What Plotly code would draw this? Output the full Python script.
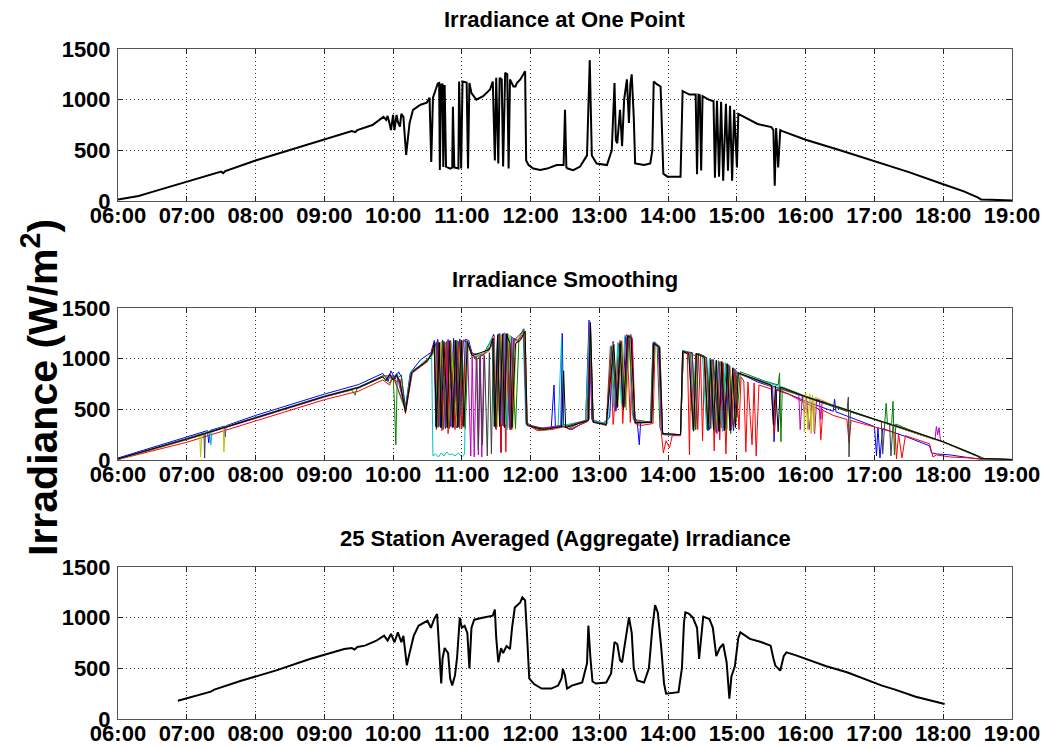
import plotly.graph_objects as go

# ---------------- data (hours of day, W/m^2) ----------------
hour_ticks = [6, 7, 8, 9, 10, 11, 12, 13, 14, 15, 16, 17, 18, 19]
tick_labels = ["06:00", "07:00", "08:00", "09:00", "10:00", "11:00", "12:00",
               "13:00", "14:00", "15:00", "16:00", "17:00", "18:00", "19:00"]
y_ticks = [0, 500, 1000, 1500]

titles = ["Irradiance at One Point", "Irradiance Smoothing",
          "25 Station Averaged (Aggregate) Irradiance"]

one_point = [
    (6.00, 15), (6.15, 30), (6.30, 50), (6.50, 90), (7.00, 190), (7.50, 290), (7.53, 275), (7.56, 295),
    (8.00, 400), (8.50, 505), (9.00, 610), (9.40, 690), (9.45, 680), (9.48, 700), (9.70, 750), (9.81, 800),
    (9.86, 830), (9.90, 800), (9.92, 840), (9.95, 760), (9.97, 700), (10.00, 850), (10.02, 700), (10.05, 850),
    (10.07, 780), (10.10, 735), (10.12, 860), (10.15, 830), (10.19, 455), (10.24, 770), (10.29, 900),
    (10.40, 950), (10.49, 970), (10.53, 1020), (10.555, 385), (10.58, 1020), (10.65, 1160), (10.67, 1165),
    (10.68, 305), (10.70, 1150), (10.72, 1150), (10.73, 335), (10.75, 1145), (10.77, 340), (10.83, 320),
    (10.86, 330), (10.87, 930), (10.89, 330), (10.95, 320), (10.96, 1180), (10.99, 320), (11.01, 1180),
    (11.07, 1170), (11.09, 320), (11.11, 1165), (11.14, 1065), (11.21, 1000), (11.31, 1035), (11.41, 1100),
    (11.45, 1180), (11.48, 400), (11.50, 1215), (11.53, 370), (11.55, 1215), (11.58, 1200), (11.60, 340),
    (11.63, 1265), (11.66, 1250), (11.68, 320), (11.70, 1200), (11.75, 1130), (11.78, 1130), (11.80, 1165),
    (11.85, 1200), (11.92, 1280), (11.935, 400), (11.97, 355), (12.04, 320), (12.14, 305), (12.24, 320),
    (12.38, 355), (12.48, 355), (12.50, 900), (12.52, 330), (12.54, 320), (12.62, 305), (12.72, 340),
    (12.82, 450), (12.86, 1390), (12.89, 450), (12.96, 370), (13.11, 355), (13.18, 500), (13.22, 1165),
    (13.24, 600), (13.26, 570), (13.30, 900), (13.33, 540), (13.36, 1000), (13.40, 1200), (13.43, 770),
    (13.45, 1150), (13.47, 1250), (13.50, 830), (13.52, 370), (13.65, 355), (13.74, 370), (13.77, 500),
    (13.79, 1180), (13.84, 1150), (13.89, 1130), (13.93, 270), (13.99, 240), (14.18, 240), (14.21, 1085),
    (14.31, 1050), (14.40, 1050), (14.42, 265), (14.44, 1050), (14.46, 1045), (14.48, 300), (14.50, 1035),
    (14.59, 1000), (14.66, 985), (14.68, 230), (14.71, 990), (14.74, 240), (14.77, 980), (14.80, 200),
    (14.84, 960), (14.87, 300), (14.90, 940), (14.93, 200), (14.96, 900), (15.00, 330), (15.02, 860),
    (15.10, 830), (15.30, 760), (15.50, 730), (15.53, 700), (15.55, 150), (15.57, 720), (15.60, 330),
    (15.63, 700), (15.66, 690), (15.70, 680), (16.00, 605), (16.50, 500), (17.00, 395), (17.50, 285),
    (18.00, 165), (18.30, 95), (18.50, 35), (18.55, 15), (18.70, 12), (19.00, 5),
]

st_blue = [
    (6.00, 20), (7.00, 230), (7.30, 290), (7.32, 170), (7.34, 292), (7.55, 335), (7.56, 230), (7.57, 338),
    (8.00, 440), (9.00, 650), (9.50, 745), (9.85, 855), (9.93, 780), (9.97, 880), (10.03, 800), (10.08, 870),
    (10.12, 820), (10.18, 520), (10.25, 860), (10.40, 990), (10.55, 1060), (10.60, 1180), (10.62, 330),
    (10.65, 1190), (10.69, 320), (10.72, 1185), (10.76, 310), (10.80, 1190), (10.84, 330), (10.88, 1200),
    (10.92, 320), (10.97, 1195), (11.01, 340), (11.05, 1190), (11.10, 1180), (11.15, 1050), (11.30, 1040),
    (11.42, 1120), (11.46, 1240), (11.49, 310), (11.53, 1245), (11.57, 80), (11.60, 1250), (11.64, 330),
    (11.67, 1240), (11.71, 300), (11.75, 1200), (11.82, 1180), (11.90, 1295), (11.94, 380), (12.00, 330),
    (12.15, 300), (12.30, 320), (12.34, 740), (12.36, 330), (12.44, 340), (12.46, 1250), (12.48, 330),
    (12.60, 300), (12.80, 380), (12.85, 1380), (12.89, 400), (13.05, 360), (13.15, 420), (13.20, 1170),
    (13.24, 480), (13.30, 1100), (13.34, 520), (13.38, 1220), (13.44, 1230), (13.48, 450), (13.55, 380),
    (13.58, 150), (13.60, 370), (13.75, 380), (13.78, 1160), (13.86, 1120), (13.92, 260), (14.00, 250),
    (14.18, 250), (14.22, 1070), (14.35, 1060), (14.40, 310), (14.44, 1050), (14.55, 1010), (14.60, 300),
    (14.64, 990), (14.70, 270), (14.76, 970), (14.82, 300), (14.88, 940), (14.95, 290), (15.02, 860),
    (15.30, 770), (15.52, 720), (15.54, 180), (15.58, 700), (16.00, 580), (16.40, 480), (16.42, 600),
    (16.44, 475), (17.00, 330), (17.03, 40), (17.05, 320), (17.08, 20), (17.12, 310), (17.50, 220),
    (17.80, 140), (17.83, 70), (17.90, 60), (18.10, 50), (18.40, 20), (18.55, 10), (19.00, 3),
]

st_green = [
    (6.00, 5), (7.00, 200), (8.00, 415), (9.00, 625), (9.40, 690), (9.45, 640), (9.47, 700), (9.85, 820),
    (9.95, 760), (10.00, 830), (10.02, 560), (10.04, 150), (10.06, 800), (10.12, 840), (10.18, 480),
    (10.26, 850), (10.45, 970), (10.58, 1040), (10.62, 1150), (10.64, 320), (10.68, 1160), (10.73, 300),
    (10.78, 1170), (10.82, 310), (10.90, 1180), (10.95, 330), (11.00, 1175), (11.05, 310), (11.09, 1160),
    (11.15, 1020), (11.30, 1030), (11.44, 1200), (11.47, 330), (11.52, 1230), (11.56, 330), (11.62, 1255),
    (11.66, 350), (11.72, 1220), (11.78, 310), (11.83, 1190), (11.91, 1285), (11.94, 360), (12.10, 300),
    (12.40, 330), (12.50, 350), (12.55, 310), (12.82, 400), (12.86, 1360), (12.90, 390), (13.10, 350),
    (13.18, 1100), (13.22, 500), (13.28, 1150), (13.36, 560), (13.41, 1210), (13.46, 1240), (13.52, 360),
    (13.74, 370), (13.78, 1150), (13.84, 1130), (13.88, 320), (13.92, 250), (14.18, 250), (14.21, 1080),
    (14.30, 1060), (14.36, 300), (14.40, 1050), (14.52, 1030), (14.57, 350), (14.62, 990), (14.68, 280),
    (14.73, 980), (14.78, 320), (14.85, 950), (14.91, 260), (14.97, 900), (15.00, 420), (15.05, 870),
    (15.40, 780), (15.60, 740), (15.62, 860), (15.64, 180), (15.66, 720), (16.00, 630), (16.50, 520),
    (17.00, 410), (17.15, 370), (17.17, 560), (17.19, 350), (17.25, 360), (17.27, 580), (17.29, 50),
    (17.31, 355), (17.50, 300), (18.00, 180), (18.30, 100), (18.52, 40), (18.60, 15), (19.00, 5),
]

st_red = [
    (6.00, 5), (7.00, 175), (8.00, 385), (9.00, 595), (9.50, 680), (9.85, 790), (9.95, 740), (10.00, 820),
    (10.05, 770), (10.10, 800), (10.18, 460), (10.28, 860), (10.50, 970), (10.60, 1140), (10.63, 300),
    (10.67, 1150), (10.71, 290), (10.77, 1160), (10.80, 260), (10.85, 1150), (10.90, 300), (10.95, 1170),
    (11.00, 310), (11.06, 1160), (11.12, 1100), (11.20, 990), (11.40, 1080), (11.45, 1220), (11.50, 300),
    (11.54, 1230), (11.57, 70), (11.60, 1240), (11.64, 80), (11.67, 1230), (11.72, 300), (11.76, 1180),
    (11.86, 1200), (11.92, 1270), (11.95, 350), (12.10, 290), (12.30, 300), (12.50, 330), (12.56, 300),
    (12.83, 380), (12.86, 1340), (12.90, 380), (13.10, 340), (13.16, 1120), (13.20, 350), (13.30, 1180),
    (13.34, 360), (13.40, 1240), (13.45, 370), (13.48, 1200), (13.52, 360), (13.60, 340), (13.78, 360),
    (13.81, 1140), (13.87, 1100), (13.90, 280), (13.93, 70), (13.97, 190), (14.02, 120), (14.06, 240),
    (14.18, 240), (14.21, 1060), (14.28, 1050), (14.31, 50), (14.33, 1040), (14.40, 1030), (14.43, 300),
    (14.47, 1040), (14.50, 190), (14.53, 1020), (14.58, 320), (14.63, 980), (14.67, 90), (14.70, 950),
    (14.75, 200), (14.80, 960), (14.84, 60), (14.88, 930), (14.93, 350), (14.98, 880), (15.03, 300),
    (15.06, 820), (15.10, 780), (15.13, 80), (15.16, 770), (15.22, 150), (15.25, 760), (15.28, 40),
    (15.32, 740), (15.50, 700), (15.54, 260), (15.57, 690), (15.75, 650), (16.00, 560), (16.20, 500),
    (16.22, 200), (16.25, 490), (16.40, 440), (16.60, 400), (16.63, 170), (16.66, 390), (17.00, 330),
    (17.30, 270), (17.32, 10), (17.35, 260), (17.40, 20), (17.45, 240), (17.80, 160), (17.85, 30),
    (17.90, 50), (18.00, 40), (18.10, 30), (18.40, 20), (18.55, 8), (19.00, 2),
]

st_cyan = [
    (6.00, 10), (7.00, 210), (7.33, 285), (7.35, 150), (7.37, 290), (8.00, 420), (9.00, 630), (9.50, 720),
    (9.85, 830), (10.00, 800), (10.06, 860), (10.18, 500), (10.26, 870), (10.50, 990), (10.56, 1060),
    (10.58, 40), (10.62, 60), (10.66, 30), (10.70, 70), (10.74, 40), (10.78, 80), (10.82, 50), (10.86, 60),
    (10.90, 40), (10.95, 70), (11.00, 30), (11.04, 60), (11.06, 1170), (11.10, 1150), (11.15, 1010),
    (11.35, 1060), (11.44, 1210), (11.48, 380), (11.52, 1240), (11.58, 360), (11.62, 1250), (11.66, 300),
    (11.70, 1230), (11.80, 1160), (11.89, 1290), (11.93, 360), (12.10, 310), (12.40, 330), (12.45, 1200),
    (12.47, 340), (12.80, 390), (12.86, 1370), (12.91, 390), (13.12, 360), (13.17, 1130), (13.21, 520),
    (13.27, 1160), (13.32, 560), (13.37, 1230), (13.43, 1200), (13.49, 400), (13.55, 370), (13.75, 370),
    (13.80, 1170), (13.88, 1120), (13.91, 260), (14.18, 250), (14.22, 1080), (14.32, 1060), (14.37, 280),
    (14.41, 1050), (14.50, 1030), (14.56, 300), (14.60, 1000), (14.66, 300), (14.70, 980), (14.79, 280),
    (14.83, 960), (14.90, 330), (14.94, 910), (15.00, 860), (15.40, 770), (15.65, 720), (16.00, 620),
    (16.50, 510), (17.00, 400), (17.50, 290), (18.00, 175), (18.50, 35), (18.55, 12), (19.00, 4),
]

st_magenta = [
    (6.00, 8), (7.00, 205), (8.00, 410), (9.00, 620), (9.50, 715), (9.85, 825), (10.00, 810), (10.05, 850),
    (10.18, 490), (10.27, 860), (10.50, 980), (10.60, 1100), (10.64, 1170), (10.67, 330), (10.71, 1170),
    (10.76, 330), (10.81, 1180), (10.86, 320), (10.91, 1180), (10.96, 330), (11.02, 1185), (11.08, 1170),
    (11.13, 40), (11.15, 1030), (11.18, 30), (11.21, 1020), (11.24, 50), (11.27, 1030), (11.29, 30),
    (11.32, 1040), (11.43, 1120), (11.47, 1230), (11.51, 330), (11.55, 1250), (11.59, 340), (11.64, 1250),
    (11.69, 320), (11.73, 1210), (11.81, 1170), (11.90, 1280), (11.94, 350), (12.10, 310), (12.45, 340),
    (12.50, 320), (12.84, 390), (12.86, 1360), (12.90, 380), (13.10, 350), (13.19, 1140), (13.25, 500),
    (13.31, 1170), (13.38, 540), (13.42, 1230), (13.47, 1220), (13.51, 380), (13.75, 370), (13.79, 1150),
    (13.86, 1110), (13.90, 300), (13.94, 250), (14.18, 245), (14.22, 1070), (14.33, 1055), (14.38, 320),
    (14.42, 1050), (14.55, 1010), (14.61, 330), (14.65, 990), (14.71, 260), (14.75, 970), (14.81, 290),
    (14.87, 940), (14.92, 300), (14.96, 900), (15.03, 850), (15.50, 730), (15.70, 690), (15.90, 640),
    (15.92, 300), (15.95, 630), (15.98, 470), (16.01, 620), (16.05, 300), (16.10, 610), (16.13, 260),
    (16.16, 600), (16.20, 590), (16.22, 400), (16.24, 585), (16.50, 510), (17.00, 400), (17.50, 290),
    (17.88, 200), (17.90, 330), (17.92, 250), (17.94, 320), (17.96, 190), (18.00, 175), (18.50, 35),
    (18.55, 12), (19.00, 4),
]

st_yellow = [
    (6.00, 8), (7.00, 200), (7.19, 240), (7.20, 30), (7.22, 245), (7.53, 325), (7.54, 80), (7.56, 330),
    (8.00, 415), (9.00, 625), (9.50, 715), (9.85, 825), (10.00, 820), (10.18, 480), (10.27, 860),
    (10.50, 980), (10.58, 1050), (10.62, 1160), (10.66, 320), (10.70, 1165), (10.79, 320), (10.84, 1180),
    (10.93, 330), (10.98, 1180), (11.03, 320), (11.07, 1170), (11.15, 1020), (11.40, 1080), (11.46, 1220),
    (11.52, 340), (11.57, 1240), (11.63, 350), (11.68, 1240), (11.74, 300), (11.79, 1170), (11.91, 1280),
    (11.95, 350), (12.20, 300), (12.50, 330), (12.85, 400), (12.87, 1350), (12.91, 380), (13.10, 350),
    (13.20, 1150), (13.27, 520), (13.33, 1180), (13.39, 500), (13.44, 1230), (13.50, 420), (13.55, 370),
    (13.76, 370), (13.80, 1160), (13.88, 1110), (13.92, 260), (14.18, 250), (14.22, 1070), (14.34, 1050),
    (14.39, 300), (14.43, 1050), (14.54, 1010), (14.59, 320), (14.63, 990), (14.72, 300), (14.77, 970),
    (14.86, 310), (14.90, 930), (14.98, 360), (15.02, 860), (15.50, 730), (15.80, 660), (15.97, 640),
    (15.98, 280), (16.00, 660), (16.03, 300), (16.06, 650), (16.08, 260), (16.10, 640), (16.12, 280),
    (16.14, 620), (16.50, 510), (17.00, 400), (17.50, 290), (18.00, 175), (18.50, 35), (18.55, 12),
    (19.00, 4),
]

st_gray = [
    (6.00, 10), (7.00, 210), (7.25, 265), (7.26, 20), (7.27, 267), (8.00, 420), (9.00, 630), (9.50, 720),
    (9.85, 830), (10.00, 830), (10.18, 500), (10.27, 870), (10.50, 985), (10.57, 1050), (10.63, 1160),
    (10.66, 330), (10.72, 1170), (10.77, 320), (10.83, 1180), (10.88, 330), (10.93, 1180), (10.97, 310),
    (11.02, 1180), (11.08, 1160), (11.14, 1040), (11.22, 1000), (11.24, 100), (11.26, 1010), (11.30, 150),
    (11.33, 1030), (11.37, 40), (11.40, 1060), (11.43, 60), (11.46, 1200), (11.50, 330), (11.55, 1240),
    (11.61, 330), (11.66, 1250), (11.70, 300), (11.76, 1180), (11.90, 1280), (11.94, 350), (12.20, 310),
    (12.50, 330), (12.85, 400), (12.87, 1360), (12.91, 380), (13.10, 350), (13.18, 1120), (13.26, 520),
    (13.32, 1170), (13.37, 520), (13.43, 1230), (13.50, 400), (13.76, 370), (13.80, 1160), (13.88, 1110),
    (13.92, 260), (14.18, 250), (14.22, 1075), (14.35, 1050), (14.40, 300), (14.44, 1050), (14.56, 1010),
    (14.62, 310), (14.66, 990), (14.73, 290), (14.78, 970), (14.84, 300), (14.89, 930), (14.95, 310),
    (15.00, 860), (15.50, 735), (16.00, 620), (16.60, 480), (16.62, 620), (16.63, 30), (16.65, 475),
    (17.00, 405), (17.10, 380), (17.12, 60), (17.15, 375), (17.22, 360), (17.24, 40), (17.27, 350),
    (17.50, 295), (18.00, 180), (18.50, 38), (18.55, 14), (19.00, 5),
]

st_black = [
    (6.00, 12), (7.00, 205), (8.00, 415), (9.00, 625), (9.50, 715), (9.85, 820), (9.90, 780), (9.95, 850),
    (10.00, 790), (10.05, 840), (10.10, 770), (10.18, 470), (10.27, 860), (10.50, 980), (10.56, 1040),
    (10.60, 1150), (10.63, 320), (10.67, 1160), (10.70, 320), (10.74, 1170), (10.79, 320), (10.82, 1170),
    (10.87, 320), (10.91, 1180), (10.94, 320), (10.99, 1180), (11.03, 330), (11.08, 1170), (11.15, 1030),
    (11.40, 1090), (11.45, 1200), (11.48, 330), (11.52, 1230), (11.55, 330), (11.59, 1240), (11.62, 320),
    (11.65, 1240), (11.70, 1150), (11.73, 320), (11.78, 1150), (11.85, 1180), (11.92, 1270), (11.95, 340),
    (12.20, 300), (12.45, 330), (12.48, 880), (12.51, 320), (12.84, 390), (12.87, 1350), (12.91, 370),
    (13.10, 350), (13.21, 1140), (13.26, 520), (13.30, 1150), (13.35, 500), (13.41, 1220), (13.46, 1210),
    (13.52, 370), (13.76, 370), (13.79, 1150), (13.87, 1120), (13.92, 260), (14.18, 250), (14.21, 1070),
    (14.30, 1050), (14.37, 290), (14.41, 1050), (14.53, 1010), (14.58, 290), (14.62, 990), (14.66, 300),
    (14.70, 985), (14.74, 280), (14.78, 970), (14.82, 290), (14.86, 950), (14.90, 290), (14.94, 910),
    (14.98, 320), (15.02, 860), (15.50, 740), (15.53, 350), (15.56, 730), (15.60, 280), (15.63, 720),
    (16.00, 625), (16.50, 515), (17.00, 405), (17.50, 295), (18.00, 180), (18.50, 40), (18.55, 15),
    (19.00, 5),
]

aggregate = [
    (6.87, 180), (7.05, 215), (7.28, 262), (7.35, 270), (7.40, 290), (7.79, 378), (8.29, 477), (8.79, 592),
    (9.29, 691), (9.40, 700), (9.44, 685), (9.48, 710), (9.59, 724), (9.75, 770), (9.87, 822), (9.92, 773),
    (9.97, 839), (10.02, 757), (10.07, 855), (10.12, 757), (10.15, 820), (10.17, 700), (10.20, 530),
    (10.24, 650), (10.30, 820), (10.37, 920), (10.50, 970), (10.55, 900), (10.60, 990), (10.64, 1036),
    (10.67, 700), (10.70, 350), (10.72, 600), (10.75, 700), (10.80, 650), (10.83, 400), (10.86, 330),
    (10.90, 430), (10.93, 600), (10.97, 1000), (11.00, 900), (11.04, 920), (11.08, 850), (11.11, 500),
    (11.14, 900), (11.18, 980), (11.30, 1000), (11.45, 1020), (11.48, 1080), (11.50, 800), (11.53, 560),
    (11.57, 700), (11.60, 650), (11.65, 720), (11.70, 690), (11.73, 900), (11.77, 1100), (11.85, 1150),
    (11.88, 1200), (11.92, 1170), (11.95, 800), (11.98, 400), (12.05, 345), (12.16, 300), (12.30, 300),
    (12.40, 330), (12.45, 400), (12.47, 494), (12.50, 430), (12.53, 300), (12.60, 330), (12.75, 360),
    (12.82, 550), (12.84, 921), (12.87, 600), (12.90, 370), (12.95, 350), (13.10, 360), (13.17, 450),
    (13.22, 760), (13.26, 740), (13.30, 580), (13.33, 560), (13.38, 800), (13.43, 1003), (13.47, 850),
    (13.50, 500), (13.55, 380), (13.65, 360), (13.72, 500), (13.77, 900), (13.81, 1125), (13.85, 1050),
    (13.90, 700), (13.94, 350), (13.97, 250), (14.15, 265), (14.20, 500), (14.23, 950), (14.25, 1053),
    (14.30, 1040), (14.36, 1000), (14.42, 900), (14.45, 592), (14.48, 800), (14.51, 1010), (14.60, 987),
    (14.65, 900), (14.70, 620), (14.75, 700), (14.80, 740), (14.85, 560), (14.89, 200), (14.92, 420),
    (14.97, 520), (15.02, 800), (15.05, 855), (15.19, 790), (15.35, 760), (15.49, 724), (15.53, 600),
    (15.56, 526), (15.60, 500), (15.63, 477), (15.68, 620), (15.72, 658), (15.85, 630), (16.00, 592),
    (16.30, 520), (16.60, 461), (17.11, 329), (17.30, 290), (17.60, 220), (18.02, 148),
]

station_sets = [st_blue, st_green, st_red, st_cyan, st_magenta, st_yellow, st_gray, st_black]
station_colors = ["#0000ff", "#008000", "#ff0000", "#00bfbf", "#bf00bf", "#bfbf00", "#404040", "#000000"]

# ---------------- figure ----------------
fig = go.Figure()


def xy(pairs):
    return [p[0] for p in pairs], [p[1] for p in pairs]


x, y = xy(one_point)
fig.add_trace(go.Scatter(x=x, y=y, mode="lines", line=dict(color="black", width=2),
                         xaxis="x", yaxis="y", showlegend=False))
for pairs, col in zip(station_sets, station_colors):
    x, y = xy(pairs)
    fig.add_trace(go.Scatter(x=x, y=y, mode="lines", line=dict(color=col, width=1),
                             xaxis="x2", yaxis="y2", showlegend=False))
x, y = xy(aggregate)
fig.add_trace(go.Scatter(x=x, y=y, mode="lines", line=dict(color="black", width=2),
                         xaxis="x3", yaxis="y3", showlegend=False))

W, H = 1044, 748
x_dom = [118 / W, 1012 / W]
plots_px = [(49, 201), (308, 460), (567, 719)]

FONT = "Liberation Sans, Arial, sans-serif"
tickfont = dict(family=FONT, size=22, color="black", weight="bold")
common = dict(ticks="inside", ticklen=5, tickcolor="#222", showline=True, linecolor="#555",
              linewidth=1, mirror="ticks", showgrid=True, gridcolor="#333", griddash="1px,3px",
              gridwidth=1, zeroline=False, tickfont=tickfont, fixedrange=True, automargin=False)

layout = dict(width=W, height=H, autosize=False, margin=dict(l=0, r=0, t=0, b=0, autoexpand=False),
              paper_bgcolor="white", plot_bgcolor="white", showlegend=False)
annotations = []
for i, (top, bot) in enumerate(plots_px):
    sfx = "" if i == 0 else str(i + 1)
    layout["xaxis" + sfx] = dict(domain=x_dom, range=[6, 19], tickvals=hour_ticks, ticktext=tick_labels,
                                 anchor="y" + sfx, ticklabelstandoff=-5, **common)
    layout["yaxis" + sfx] = dict(domain=[1 - bot / H, 1 - top / H], range=[0, 1500], tickvals=y_ticks,
                                 anchor="x" + sfx, ticklabelstandoff=2, **common)
    annotations.append(dict(text=titles[i], x=565 / W, y=1 - (top - 29) / H, xref="paper", yref="paper",
                            xanchor="center", yanchor="middle", showarrow=False,
                            font=dict(family=FONT, size=22, color="black", weight="bold")))
annotations.append(dict(text="Irradiance (W/m<sup>2</sup>)", x=40 / W, y=1 - 388 / H,
                        xref="paper", yref="paper", xanchor="center", yanchor="middle",
                        textangle=-90, showarrow=False,
                        font=dict(family=FONT, size=41, color="black", weight="bold")))
layout["annotations"] = annotations
fig.update_layout(**layout)

fig.write_html("out.html")
